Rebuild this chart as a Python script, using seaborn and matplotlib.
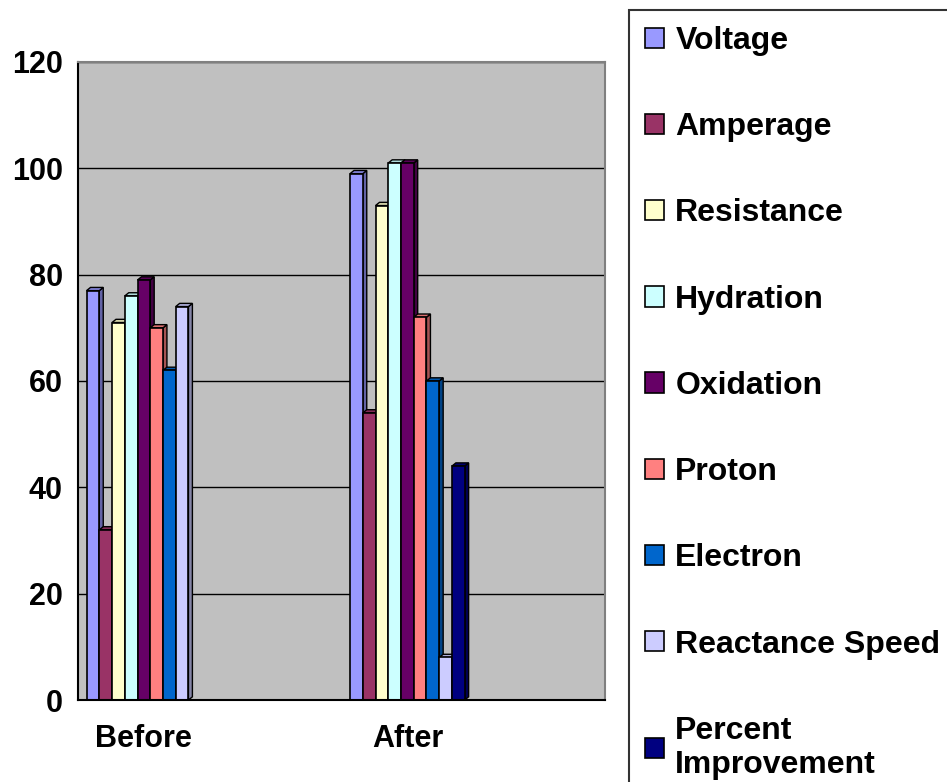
import pandas as pd
import matplotlib.pyplot as plt
from matplotlib.patches import Polygon
from matplotlib.colors import to_rgb
import seaborn as sns

# data
series = ['Voltage', 'Amperage', 'Resistance', 'Hydration', 'Oxidation',
          'Proton', 'Electron', 'Reactance Speed', 'Percent Improvement']
before = [77, 32, 71, 76, 79, 70, 62, 74, None]
after = [99, 54, 93, 101, 101, 72, 60, 8, 44]
periods = ['Before', 'gap1', 'After', 'gap2']
period_labels = ['Before', '', 'After', '']
colors = ['#9999FF', '#993366', '#FFFFCC', '#CCFFFF', '#660066',
          '#FF8080', '#0066CC', '#CCCCFF', '#000080']

FONT = 'Liberation Sans'
TICK_FONTSIZE = 22
LEGEND_FONTSIZE = 23


def shade(c, f):
    r, g, b = to_rgb(c)
    return (r * f, g * f, b * f)


def add_depth(ax, dx, dy):
    # fake the excel 3d look: a side face and a top face behind each bar
    for p in list(ax.patches):
        h = p.get_height()
        if not h or h != h:
            continue
        x0, w = p.get_x(), p.get_width()
        fc = p.get_facecolor()
        side = Polygon([(x0 + w, 0), (x0 + w + dx, dy), (x0 + w + dx, h + dy), (x0 + w, h)],
                       closed=True, facecolor=shade(fc[:3], 0.65), edgecolor='black',
                       linewidth=1.0, zorder=p.get_zorder() - 0.2)
        top = Polygon([(x0, h), (x0 + dx, h + dy), (x0 + w + dx, h + dy), (x0 + w, h)],
                      closed=True, facecolor=shade(fc[:3], 0.85), edgecolor='black',
                      linewidth=1.0, zorder=p.get_zorder() - 0.2)
        ax.add_patch(side)
        ax.add_patch(top)


rows = []
for s, b, a in zip(series, before, after):
    if b is not None:
        rows.append({'Period': 'Before', 'Series': s, 'Value': b})
    rows.append({'Period': 'After', 'Series': s, 'Value': a})
df = pd.DataFrame(rows)

sns.set_style('white')
plt.rcParams['font.family'] = [FONT, 'DejaVu Sans']
plt.rcParams.update({'text.color': 'black', 'xtick.color': 'black', 'ytick.color': 'black',
                     'axes.labelcolor': 'black'})

fig = plt.figure(figsize=(9.47, 7.82), dpi=100)
ax = fig.add_axes([78 / 947, 1 - 700 / 782, 527 / 947, 638 / 782])
ax.set_facecolor('#C0C0C0')

sns.barplot(data=df, x='Period', y='Value', hue='Series', order=periods,
            hue_order=series, palette=colors, width=0.87, edgecolor='black',
            linewidth=1.2, saturation=1, ax=ax)

add_depth(ax, 0.03, 0.6)

ax.set_xlim(-0.5, 3.5)
ax.set_ylim(0, 120)
ax.set_yticks(range(0, 121, 20))
ax.yaxis.grid(True, color='black', linewidth=1.0)
ax.set_axisbelow(True)

ax.set_xticks(range(len(periods)))
ax.set_xticklabels(period_labels, fontsize=TICK_FONTSIZE, fontweight='bold', color='black')
ax.set_xticks([-0.5, 0.5, 1.5, 2.5, 3.5], minor=True)
ax.tick_params(axis='x', which='major', length=0, pad=17)
ax.tick_params(axis='x', which='minor', length=7, width=1.2, color='black', direction='out')
ax.tick_params(axis='y', length=7, width=1.2, color='black', direction='out', pad=4,
               labelsize=TICK_FONTSIZE, labelcolor='black')
for t in ax.get_yticklabels():
    t.set_fontweight('bold')
ax.set_xlabel('')
ax.set_ylabel('')

for side in ['left', 'bottom']:
    ax.spines[side].set_color('black')
    ax.spines[side].set_linewidth(1.5)
for side in ['top', 'right']:
    ax.spines[side].set_color('#808080')
    ax.spines[side].set_linewidth(1.5)

handles, labels = ax.get_legend_handles_labels()
labels = [l.replace('Percent Improvement', 'Percent\nImprovement') for l in labels]
leg = ax.legend(handles, labels, loc='upper left',
                bbox_to_anchor=(629 / 947, 1 - 10 / 782), bbox_transform=fig.transFigure,
                borderaxespad=0, frameon=True, fancybox=False, edgecolor='black',
                handlelength=0.6, handleheight=0.6, handletextpad=0.35,
                labelspacing=1.76, borderpad=0.5,
                prop={'family': FONT, 'weight': 'bold', 'size': LEGEND_FONTSIZE})
leg.get_frame().set_linewidth(1.5)
for t in leg.get_texts():
    t.set_color('black')

fig.savefig('out.png', dpi=100, facecolor='white')
plt.close(fig)
